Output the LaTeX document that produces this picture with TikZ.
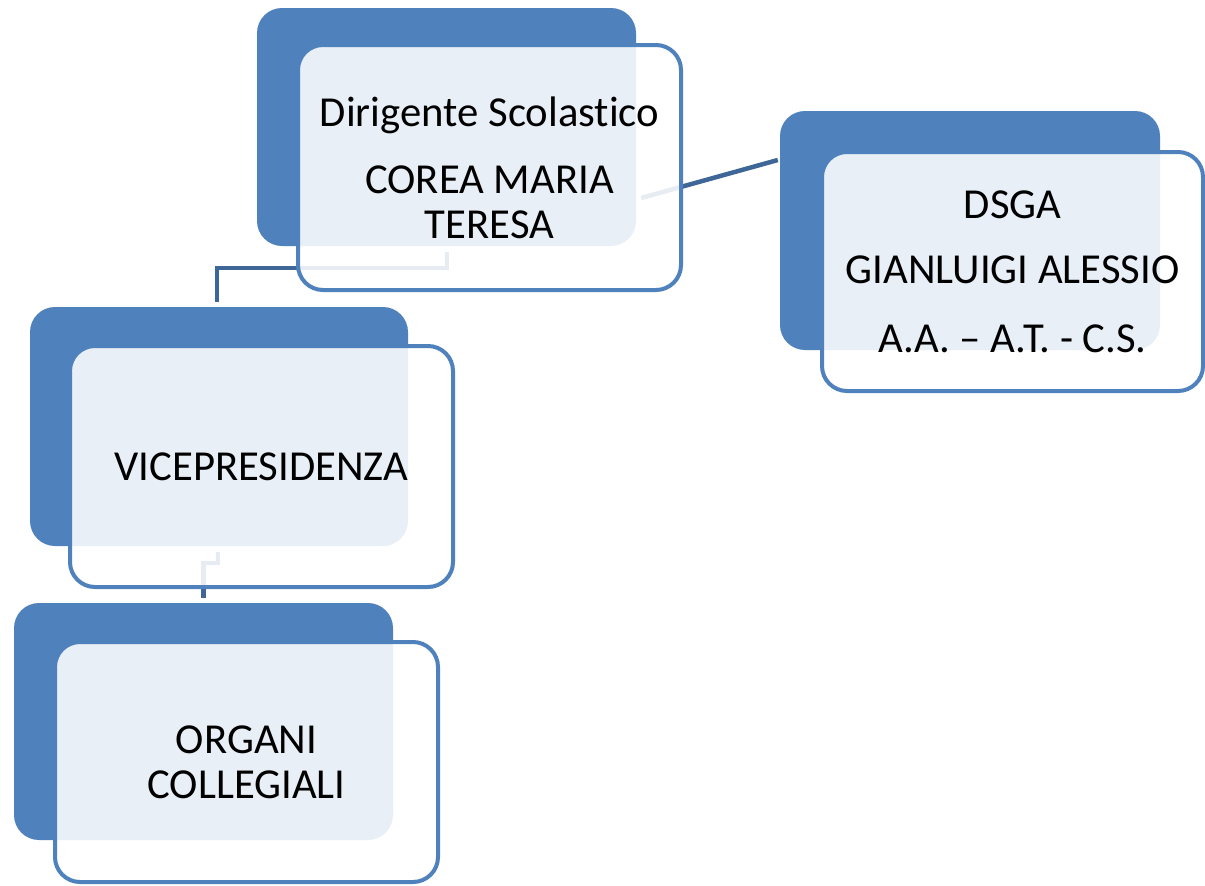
\documentclass[tikz,border=0pt]{standalone}
\usepackage{fontspec}
\setmainfont{Carlito}[Ligatures=NoCommon]
\usetikzlibrary{calc}
\definecolor{accent}{HTML}{4F81BD}
\definecolor{conn}{HTML}{3E6697}
\begin{document}
\begin{tikzpicture}[x=1pt,y=-1pt,
  backbox/.style={fill=accent, draw=none, rounded corners=25pt, inner sep=0pt},
  frontbox/.style={draw=accent, line width=4pt, fill=white, fill opacity=0.88, text opacity=1,
    rounded corners=25pt, inner sep=0pt, align=center, font=\fontsize{42.7}{45}\selectfont},
  link/.style={draw=conn, line width=4.5pt}]
\useasboundingbox (0,0) rectangle (1205,886);
% back boxes
\node[backbox, minimum width=379pt, minimum height=238pt] (dsb) at (446.5,127) {};
\node[backbox, minimum width=380pt, minimum height=239pt] (dgb) at (970,230.5) {};
\node[backbox, minimum width=378pt, minimum height=239pt] (vpb) at (219,426.5) {};
\node[backbox, minimum width=379pt, minimum height=237pt] (orb) at (203.5,721.5) {};
% connector end points
\coordinate (c1a) at ($(dsb.east)+(5,71)$);
\coordinate (c1b) at ($(dgb.west)+(-2,-70.5)$);
\coordinate (c2a) at ($(dsb.south)+(0.5,6)$);
\coordinate (c2b) at ($(vpb.north)+(-2,-5)$);
\coordinate (c3a) at ($(vpb.south)+(-1,6)$);
\coordinate (c3b) at ($(orb.north)+(0,-5)$);
% connectors
\draw[link] (c1a) -- (c1b);
\draw[link] (c2a) -- ++(0,16) -| (c2b);
\draw[link] (c3a) -- ++(0,11) -| (c3b);
% front boxes
\node[frontbox, minimum width=383pt, minimum height=245pt] (dsf) at (489.5,167.5)
  {Dirigente Scolastico\\[22pt]COREA MARIA\\TERESA};
\node[frontbox, minimum width=381pt, minimum height=239pt] (dgf) at (1012.5,271.5)
  {DSGA\\[20pt]GIANLUIGI ALESSIO\\[24pt]A.A. – A.T. - C.S.};
\node[frontbox, minimum width=383pt, minimum height=241pt] (vpf) at (261.5,466.5)
  {VICEPRESIDENZA};
\node[frontbox, minimum width=383pt, minimum height=240pt] (orf) at (246.5,762)
  {ORGANI\\COLLEGIALI};
\end{tikzpicture}
\end{document}
